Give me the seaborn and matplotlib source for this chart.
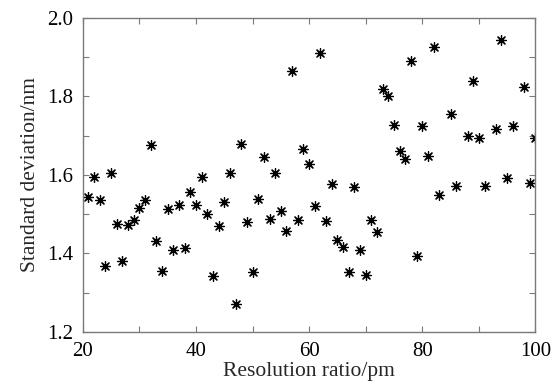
import matplotlib
matplotlib.use("Agg")
import matplotlib.pyplot as plt
import seaborn as sns
import pandas as pd
from matplotlib.ticker import MultipleLocator

resolution = [21, 22, 23, 24, 25, 26, 27, 28, 29, 30, 31, 32, 33, 34, 35, 36, 37, 38, 39, 40,
              41, 42, 43, 44, 45, 46, 47, 48, 49, 50, 51, 52, 53, 54, 55, 56, 57, 58, 59, 60,
              61, 62, 63, 64, 65, 66, 67, 68, 69, 70, 71, 72, 73, 74, 75, 76, 77, 78, 79, 80,
              81, 82, 83, 85, 86, 88, 89, 90, 91, 93, 94, 95, 96, 98, 99, 100]
std_dev = [1.544, 1.594, 1.535, 1.369, 1.606, 1.476, 1.382, 1.472, 1.485, 1.517, 1.535, 1.677,
           1.432, 1.356, 1.514, 1.410, 1.524, 1.414, 1.556, 1.524, 1.594, 1.500, 1.342, 1.470,
           1.530, 1.604, 1.272, 1.678, 1.481, 1.352, 1.538, 1.645, 1.487, 1.606, 1.508, 1.457,
           1.866, 1.485, 1.665, 1.628, 1.521, 1.910, 1.482, 1.577, 1.435, 1.416, 1.354, 1.569,
           1.409, 1.345, 1.485, 1.454, 1.820, 1.802, 1.727, 1.660, 1.640, 1.890, 1.393, 1.725,
           1.649, 1.925, 1.550, 1.754, 1.571, 1.700, 1.840, 1.695, 1.573, 1.718, 1.943, 1.592,
           1.724, 1.825, 1.580, 1.693]

df = pd.DataFrame({"x": resolution, "y": std_dev})

sns.set_theme(style="white")
plt.rcParams["font.family"] = ["Liberation Serif", "DejaVu Serif"]

fig = plt.figure(figsize=(5.52, 3.89), dpi=100)
ax = fig.add_axes([0.150, 0.1465, 0.820, 0.8075])

sns.scatterplot(data=df, x="x", y="y", ax=ax, marker=(8, 2, 0), color="black",
                s=50, linewidth=0.9, legend=False)

ax.set_xlim(20, 100)
ax.set_ylim(1.2, 2.0)
ax.xaxis.set_major_locator(MultipleLocator(20))
ax.xaxis.set_minor_locator(MultipleLocator(10))
ax.yaxis.set_major_locator(MultipleLocator(0.2))
ax.yaxis.set_minor_locator(MultipleLocator(0.1))
ax.yaxis.set_major_formatter(matplotlib.ticker.FormatStrFormatter("%.1f"))

spine_col = "#7a7a7a"
for sp in ax.spines.values():
    sp.set_color(spine_col)
    sp.set_linewidth(1.0)
ax.tick_params(which="both", direction="in", top=True, right=True, bottom=True, left=True,
               length=4, width=0.8, color=spine_col, labelsize=15, labelcolor="black", pad=7)

ax.set_xlabel("Resolution ratio/pm", fontsize=15.5, labelpad=1)
ax.set_ylabel("Standard deviation/nm", fontsize=15.5, labelpad=5)

fig.savefig("out.png", dpi=100)
